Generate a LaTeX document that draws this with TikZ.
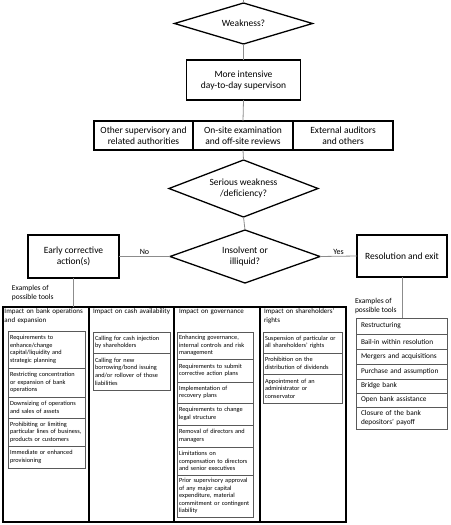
\documentclass[tikz,border=0pt]{standalone}
\usepackage{fontspec}
\setmainfont{Carlito}
\usetikzlibrary{shapes.geometric}
\newcommand{\oneline}[1]{\mbox{#1}}
\begin{document}
\begin{tikzpicture}[x=1pt,y=-1pt,
  every node/.style={outer sep=0pt},
  mainbox/.style={draw=black, line width=1.3pt, align=center, font=\fontsize{9.5}{11}\selectfont, inner sep=0pt},
  decision/.style={diamond, draw=black, line width=1.3pt, align=center, font=\fontsize{9.5}{11}\selectfont, inner sep=0pt},
  conn/.style={draw=black!45, line width=0.8pt},
  lbl/.style={font=\fontsize{8}{9}\selectfont, inner sep=1.5pt},
  colbox/.style={draw=black, line width=1.3pt, inner sep=0pt, anchor=north west, minimum height=215pt},
  colhead/.style={anchor=north west, align=left, text width=82pt, inner sep=0pt, font=\fontsize{7}{8.8}\selectfont},
  examples/.style={anchor=north west, align=left, inner sep=0pt, font=\fontsize{7.5}{9.5}\selectfont},
  item/.style={draw=black!65, line width=0.6pt, anchor=north west, align=left, inner xsep=2pt, inner ysep=0pt, font=\fontsize{6.3}{7.6}\selectfont},
  itemA/.style={item, text width=73pt},
  itemB/.style={item, text width=73pt},
  itemC/.style={item, text width=72pt},
  itemD/.style={item, text width=75pt},
  resitem/.style={draw=black!65, line width=0.6pt, anchor=north west, align=left, inner xsep=5pt, inner ysep=0pt, text width=81pt, font=\fontsize{7.3}{8.6}\selectfont}
]
\useasboundingbox (0,0) rectangle (450,525);

% top flow
\coordinate (topin) at (243.5,0);
\node[decision, aspect=3.4, minimum width=138pt, minimum height=41pt] (weak) at (243.5,23.5) {Weakness?};
\node[mainbox, minimum width=114pt, minimum height=40pt] (more) at (243.5,80) {More intensive\\day-to-day supervison};
\node[mainbox, minimum width=99pt, minimum height=29pt] (other) at (143.5,135.5) {Other supervisory and\\related authorities};
\node[mainbox, minimum width=100pt, minimum height=29pt] (onsite) at (243,135.5) {On-site examination\\and off-site reviews};
\node[mainbox, minimum width=100pt, minimum height=29pt] (extern) at (343,135.5) {External auditors\\and others};
\node[decision, aspect=2.6, minimum width=149pt, minimum height=57pt] (serious) at (243.5,188.5) {Serious weakness\\/deficiency?};
\node[decision, aspect=2.83, minimum width=150pt, minimum height=53pt] (insolv) at (245,256.5) {Insolvent or\\illiquid?};
\node[mainbox, minimum width=91pt, minimum height=43pt] (early) at (73.5,256.5) {Early corrective\\action(s)};
\node[mainbox, minimum width=90pt, minimum height=42pt] (resol) at (402,256) {Resolution and exit};

\draw[conn] (topin) -- (weak.north);
\draw[conn] (weak.south) -- (more.north);
\draw[conn] (more.south) -- (onsite.north);
\draw[conn] (onsite.south) -- (serious.north);
\draw[conn] (serious.south) -- (insolv.north);
\draw[conn] (insolv.west) -- node[lbl, above] (nolbl) {No} (early.east);
\draw[conn] (insolv.east) -- node[lbl, above] (yeslbl) {Yes} (resol.west);

% left tools
\node[examples] (exL) at (12,285) {Examples of\\possible tools};
\node[colbox, minimum width=86pt] (col1) at (3,307) {};
\node[colbox, minimum width=85pt] (col2) at (89,307) {};
\node[colbox, minimum width=86pt] (col3) at (174,307) {};
\node[colbox, minimum width=86pt] (col4) at (260,307) {};
\draw[conn] (early.south) -- (early.south |- col1.north);

\node[colhead] (h1) at (4.5,309) {Impact on bank operations\\and expansion};
\node[colhead] (h2) at (93,309) {Impact on cash availability};
\node[colhead] (h3) at (179,309) {Impact on governance};
\node[colhead] (h4) at (264,309) {Impact on shareholders'\\rights};

% column 1
\node[itemA, minimum height=37pt] (c1a) at (8,331) {Requirements to\\enhance/change\\capital/liquidity and\\strategic planning};
\node[itemA, minimum height=29pt] (c1b) at (c1a.south west) {\oneline{Restricting concentration}\\or expansion of bank\\operations};
\node[itemA, minimum height=21pt] (c1c) at (c1b.south west) {\oneline{Downsizing of operations}\\and sales of assets};
\node[itemA, minimum height=28pt] (c1d) at (c1c.south west) {Prohibiting or limiting\\\oneline{particular lines of business,}\\products or customers};
\node[itemA, minimum height=22pt] (c1e) at (c1d.south west) {Immediate or enhanced\\provisioning};

% column 2
\node[itemB, minimum height=21pt] (c2a) at (93,332) {\oneline{Calling for cash injection}\\by shareholders};
\node[itemB, minimum height=37pt] (c2b) at (c2a.south west) {Calling for new\\\oneline{borrowing/bond issuing}\\\oneline{and/or rollover of those}\\liabilities};

% column 3
\node[itemC, minimum height=27pt] (c3a) at (177,332) {Enhancing governance,\\\oneline{internal controls and risk}\\management};
\node[itemC, minimum height=23pt] (c3b) at (c3a.south west) {\oneline{Requirements to submit}\\corrective action plans};
\node[itemC, minimum height=21pt] (c3c) at (c3b.south west) {Implementation of\\recovery plans};
\node[itemC, minimum height=22pt] (c3d) at (c3c.south west) {\oneline{Requirements to change}\\legal structure};
\node[itemC, minimum height=22pt] (c3e) at (c3d.south west) {\oneline{Removal of directors and}\\managers};
\node[itemC, minimum height=28pt] (c3f) at (c3e.south west) {Limitations on\\\oneline{compensation to directors}\\and senior executives};
\node[itemC, minimum height=42pt] (c3g) at (c3f.south west) {\oneline{Prior supervisory approval}\\of any major capital\\expenditure, material\\\oneline{commitment or contingent}\\liability};

% column 4
\node[itemD, minimum height=21pt] (c4a) at (263,332) {\oneline{Suspension of particular or}\\all shareholders' rights};
\node[itemD, minimum height=21pt] (c4b) at (c4a.south west) {Prohibition on the\\distribution of dividends};
\node[itemD, minimum height=29pt] (c4c) at (c4b.south west) {Appointment of an\\administrator or\\conservator};

% right tools
\node[examples] (exR) at (355,298) {Examples of\\possible tools};
\node[resitem, minimum height=16pt] (r1) at (356,318) {Restructuring};
\node[resitem, minimum height=15pt] (r2) at (r1.south west) {Bail-in within resolution};
\node[resitem, minimum height=15pt] (r3) at (r2.south west) {Mergers and acquisitions};
\node[resitem, minimum height=15pt] (r4) at (r3.south west) {Purchase and assumption};
\node[resitem, minimum height=14pt] (r5) at (r4.south west) {Bridge bank};
\node[resitem, minimum height=14pt] (r6) at (r5.south west) {Open bank assistance};
\node[resitem, minimum height=22pt] (r7) at (r6.south west) {Closure of the bank\\depositors' payoff};
\draw[conn] (resol.south) -- (resol.south |- r1.north);
\end{tikzpicture}
\end{document}
